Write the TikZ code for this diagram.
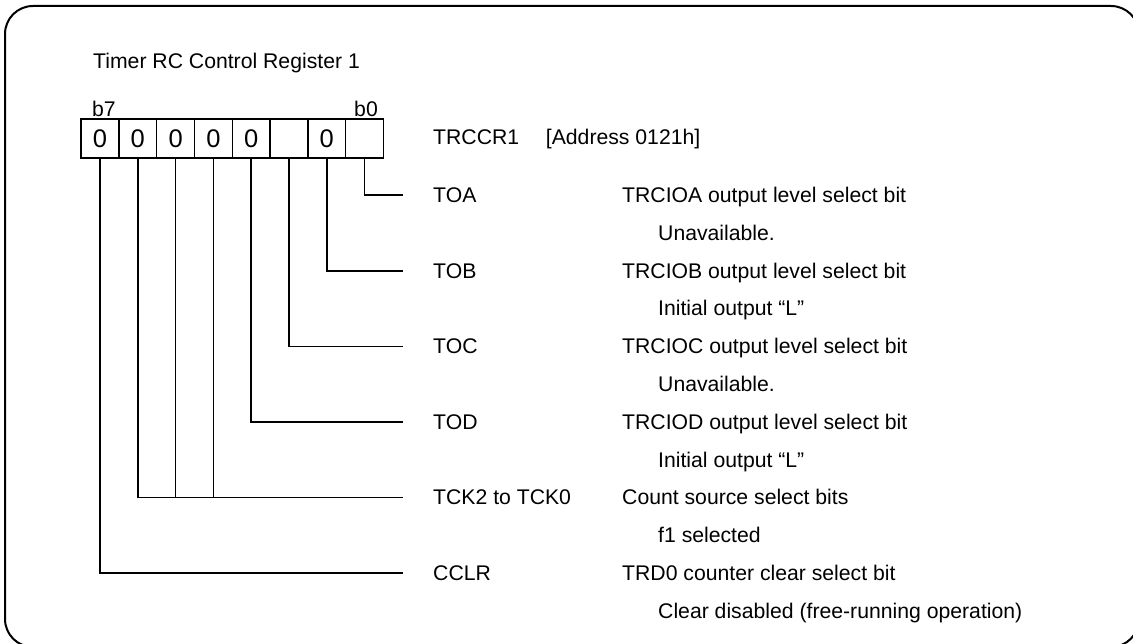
\documentclass[tikz,border=0pt]{standalone}
\usepackage{fontspec}
\setmainfont{Liberation Sans}
\begin{document}
\begin{tikzpicture}[x=1pt,y=-1pt,
                    line/.style={line width=1.5pt},
                    cell/.style={draw,line width=1.5pt,minimum width=37.8pt,minimum height=38.6pt,
                                 inner sep=0pt,font=\fontsize{25.5}{30}\selectfont},
                    txt/.style={anchor=base west,inner sep=0pt},
                    every node/.style={font=\fontsize{21.2}{25}\selectfont}]
 \useasboundingbox (0,0) rectangle (1133,644);
 \clip (0,0) rectangle (1133,644);
 \draw[line width=2pt,rounded corners=28pt] (5,6) rectangle (1139,647);
 \node[txt] (title) at (93,69) {Timer RC Control Register 1};
 % register cells, b7 on the left
 \foreach \v [count=\i from 0] in {0,0,0,0,0,{},0,{}} {
   \pgfmathtruncatemacro\b{7-\i}
   \node[cell] (c\b) at (100+37.8*\i,138.5) {\v};
 }
 \node[txt] (b7) at (92,117) {b7};
 \node[anchor=base east,inner sep=0pt] (b0) at (378,117) {b0};
 \node[txt] (reg) at (433,145) {TRCCR1};
 \node[txt] (addr) at (545.7,145) {[Address 0121h]};
 % bit fields
 \foreach \n/\lab/\desc/\val [count=\k from 0] in {
     toa/TOA/TRCIOA output level select bit/Unavailable.,
     tob/TOB/TRCIOB output level select bit/Initial output “L”,
     toc/TOC/TRCIOC output level select bit/Unavailable.,
     tod/TOD/TRCIOD output level select bit/Initial output “L”,
     tck/TCK2 to TCK0/Count source select bits/f1 selected,
     cclr/CCLR/TRD0 counter clear select bit/Clear disabled (free-running operation)} {
   \node[txt] (\n) at (433,202.5+75.6*\k) {\lab};
   \node[txt] (\n d) at (622,202.5+75.6*\k) {\desc};
   \node[txt] (\n v) at (658,240.3+75.6*\k) {\val};
 }
 \draw[line] (c0.south) |- ([xshift=-30pt]toa.west);
 \draw[line] (c1.south) |- ([xshift=-30pt]tob.west);
 \draw[line] (c2.south) |- ([xshift=-30pt]toc.west);
 \draw[line] (c3.south) |- ([xshift=-30pt]tod.west);
 \draw[line] (c6.south) |- ([xshift=-30pt]tck.west);
 \draw[line] (c5.south) -- (c5.south |- tck.west);
 \draw[line] (c4.south) -- (c4.south |- tck.west);
 \draw[line] (c7.south) |- ([xshift=-30pt]cclr.west);
\end{tikzpicture}
\end{document}
